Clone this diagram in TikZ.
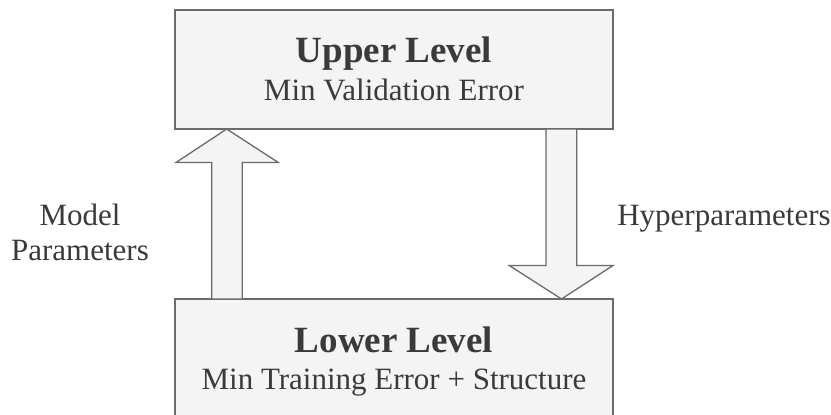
\documentclass[tikz,border=0pt]{standalone}
\usepackage{fontspec}
\setmainfont{Liberation Serif}
\usetikzlibrary{calc}
\definecolor{boxfill}{HTML}{F4F4F4}
\definecolor{boxline}{HTML}{6B6B6B}
\definecolor{txt}{HTML}{3A3A3A}
\begin{document}
\begin{tikzpicture}[x=1pt,y=-1pt,
  levelbox/.style={draw=boxline, fill=boxfill, line width=1.3pt, minimum width=438pt, inner sep=0pt, outer sep=0pt, anchor=north west},
  titletext/.style={font=\fontsize{37}{42}\selectfont\bfseries, text=txt, anchor=base, inner sep=0pt},
  subtext/.style={font=\fontsize{31}{36}\selectfont, text=txt, anchor=base, inner sep=0pt},
  blockarrow/.style={draw=boxline, fill=boxfill, line width=1.3pt, line join=miter}]
\useasboundingbox (0,0) rectangle (831,415);
\node[levelbox, minimum height=119pt] (upper) at (175,10) {};
\node[levelbox, minimum height=135pt] (lower) at (175,299) {};
\node[titletext] (uptitle) at (394,62) {Upper Level};
\node[subtext] (upsub) at (394,100) {Min Validation Error};
\node[titletext] (lowtitle) at (394,352) {Lower Level};
\node[subtext] (lowsub) at (394,389) {Min Training Error + Structure};
\node[subtext] (model) at (80,225) {Model};
\node[subtext] (params) at (80,260) {Parameters};
\node[subtext] (hyper) at (724,225) {Hyperparameters};
% up arrow
\draw[blockarrow] ($(upper.south west)+(51.7,0)$)
  -- ($(upper.south west)+(103.3,33.5)$)
  -- ($(upper.south west)+(67.3,33.5)$)
  -- ($(lower.north west)+(67.3,0)$)
  -- ($(lower.north west)+(36.7,0)$)
  -- ($(upper.south west)+(36.7,33.5)$)
  -- ($(upper.south west)+(1,33.5)$) -- cycle;
% down arrow
\draw[blockarrow] ($(upper.south west)+(371,0)$)
  -- ($(upper.south west)+(401.7,0)$)
  -- ($(lower.north west)+(401.7,-33.5)$)
  -- ($(lower.north west)+(438,-33.5)$)
  -- ($(lower.north west)+(386.5,0)$)
  -- ($(lower.north west)+(334.3,-33.5)$)
  -- ($(lower.north west)+(371,-33.5)$) -- cycle;
\end{tikzpicture}
\end{document}
